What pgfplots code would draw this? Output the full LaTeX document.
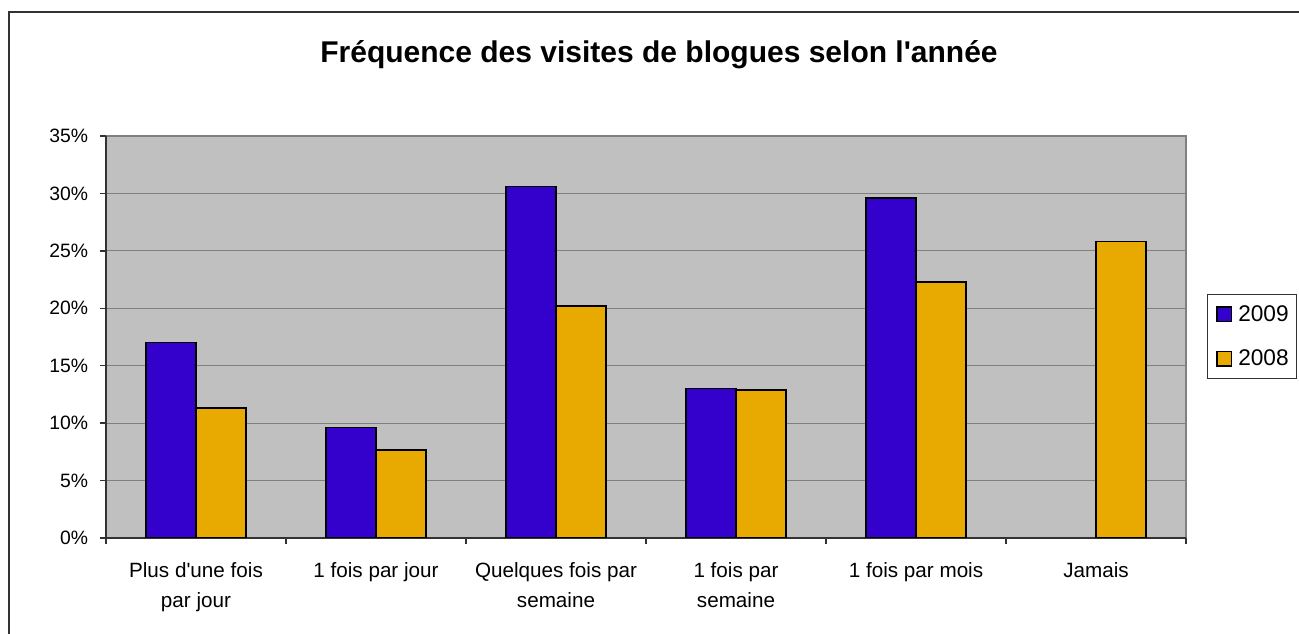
\documentclass[border=0pt]{standalone}
\usepackage{pgfplots}
\pgfplotsset{compat=1.18}
\usepackage{fontspec}
\setmainfont{Liberation Sans}
\definecolor{cblue}{RGB}{51,0,204}
\definecolor{cgold}{RGB}{232,170,0}
\definecolor{cbg}{RGB}{192,192,192}
\definecolor{cgrid}{RGB}{128,128,128}
\definecolor{caxis}{RGB}{50,50,50}
\begin{document}
\begin{tikzpicture}[x=0.75pt,y=0.75pt]
\useasboundingbox (0,0) rectangle (1299,634);
\draw[caxis, line width=1.5pt] (9,0) -- (9,622) -- (1299,622);
\node[font=\fontsize{22.5}{26}\selectfont\bfseries] at (659,579) {Fréquence des visites de blogues selon l\textquotesingle année};
\begin{axis}[
  at={(106pt*0.75,96pt*0.75)}, anchor=south west,
  scale only axis, width=810pt, height=301.5pt,
  xmin=-0.5, xmax=5.5, ymin=0, ymax=35,
  ybar=0pt, bar width=37.5pt,
  axis background/.style={fill=cbg, draw=cgrid, line width=1pt},
  axis x line*=bottom, axis y line*=left,
  axis line style={caxis, line width=1.4pt},
  xtick={0,...,5},
  xticklabels={{Plus d\textquotesingle une fois\\par jour},{1 fois par jour},{Quelques fois par\\semaine},{1 fois par\\semaine},{1 fois par mois},{Jamais}},
  xticklabel style={align=center, font=\fontsize{15.5}{22.5}\selectfont, yshift=-10pt},
  major x tick style={draw=none},
  minor xtick={-0.5,0.5,...,5.5},
  minor x tick style={caxis, line width=1pt},
  minor tick length=4.5pt,
  ytick={0,5,...,35},
  yticklabel={\pgfmathprintnumber{\tick}\%},
  yticklabel style={font=\fontsize{14.5}{18}\selectfont, xshift=-5.5pt},
  major tick length=4.5pt,
  y tick style={caxis, line width=1pt},
  tick align=outside,
  ymajorgrids, grid style={cgrid, line width=0.8pt},
  /pgf/number format/assume math mode=true,
  legend style={at={(1.0194,0.607)}, anchor=north west, draw=caxis, line width=1pt, fill=white,
    font=\fontsize{17}{20}\selectfont, row sep=16pt, inner xsep=4pt, inner ysep=6pt},
  legend cell align=left,
  legend image code/.code={\draw[#1, line width=1pt] (3pt,-5.5pt) rectangle (14pt,5.5pt); \path[draw=none, fill=none] (0pt,0pt) -- (17pt,0pt);},
]
\addplot[fill=cblue, draw=black, line width=1.1pt] coordinates {(0,17.0) (1,9.6) (2,30.6) (3,13.0) (4,29.6)};
\addplot[fill=cgold, draw=black, line width=1.1pt] coordinates {(0,11.3) (1,7.65) (2,20.2) (3,12.9) (4,22.3) (5,25.8)};
\legend{2009,2008}
\end{axis}
\end{tikzpicture}
\end{document}
